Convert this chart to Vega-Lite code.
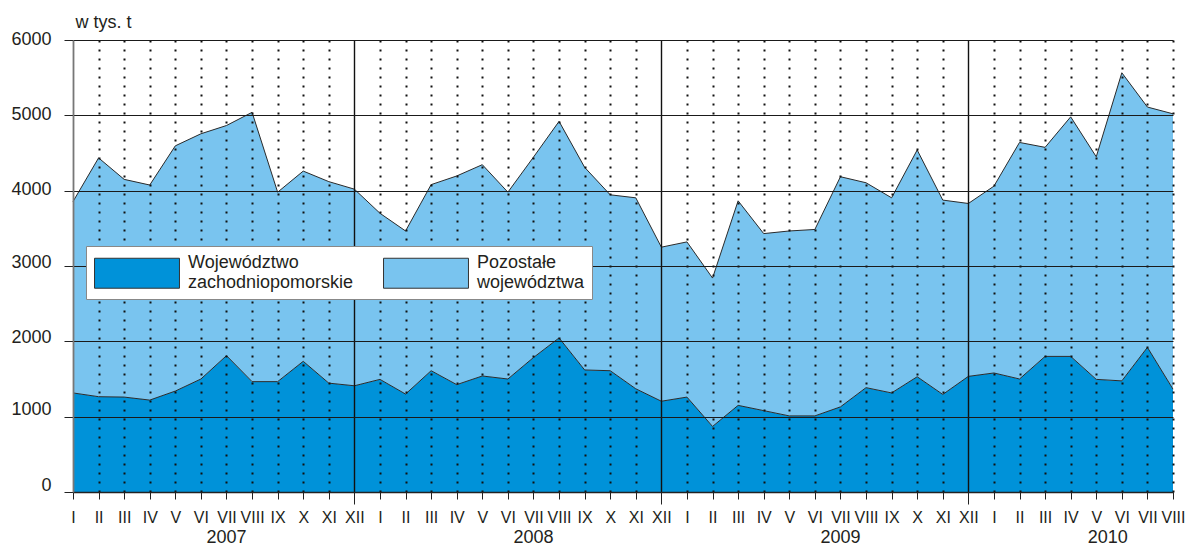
{
  "$schema": "https://vega.github.io/schema/vega-lite/v6.json",
  "width": 1100,
  "height": 452,
  "autosize": {"type": "none"},
  "padding": {"left": 73, "top": 40, "right": 24, "bottom": 55},
  "background": "white",
  "config": {"view": {"stroke": null}, "font": "Liberation Sans"},
  "datasets": {
    "main": [
      {"i":0,"s":"Województwo zachodniopomorskie","v":1315},{"i":0,"s":"Pozostałe województwa","v":2540},
      {"i":1,"s":"Województwo zachodniopomorskie","v":1265},{"i":1,"s":"Pozostałe województwa","v":3170},
      {"i":2,"s":"Województwo zachodniopomorskie","v":1260},{"i":2,"s":"Pozostałe województwa","v":2890},
      {"i":3,"s":"Województwo zachodniopomorskie","v":1220},{"i":3,"s":"Pozostałe województwa","v":2855},
      {"i":4,"s":"Województwo zachodniopomorskie","v":1340},{"i":4,"s":"Pozostałe województwa","v":3255},
      {"i":5,"s":"Województwo zachodniopomorskie","v":1500},{"i":5,"s":"Pozostałe województwa","v":3255},
      {"i":6,"s":"Województwo zachodniopomorskie","v":1810},{"i":6,"s":"Pozostałe województwa","v":3055},
      {"i":7,"s":"Województwo zachodniopomorskie","v":1465},{"i":7,"s":"Pozostałe województwa","v":3575},
      {"i":8,"s":"Województwo zachodniopomorskie","v":1465},{"i":8,"s":"Pozostałe województwa","v":2515},
      {"i":9,"s":"Województwo zachodniopomorskie","v":1735},{"i":9,"s":"Pozostałe województwa","v":2525},
      {"i":10,"s":"Województwo zachodniopomorskie","v":1445},{"i":10,"s":"Pozostałe województwa","v":2675},
      {"i":11,"s":"Województwo zachodniopomorskie","v":1410},{"i":11,"s":"Pozostałe województwa","v":2610},
      {"i":12,"s":"Województwo zachodniopomorskie","v":1495},{"i":12,"s":"Pozostałe województwa","v":2205},
      {"i":13,"s":"Województwo zachodniopomorskie","v":1300},{"i":13,"s":"Pozostałe województwa","v":2165},
      {"i":14,"s":"Województwo zachodniopomorskie","v":1610},{"i":14,"s":"Pozostałe województwa","v":2470},
      {"i":15,"s":"Województwo zachodniopomorskie","v":1425},{"i":15,"s":"Pozostałe województwa","v":2770},
      {"i":16,"s":"Województwo zachodniopomorskie","v":1540},{"i":16,"s":"Pozostałe województwa","v":2805},
      {"i":17,"s":"Województwo zachodniopomorskie","v":1500},{"i":17,"s":"Pozostałe województwa","v":2480},
      {"i":18,"s":"Województwo zachodniopomorskie","v":1785},{"i":18,"s":"Pozostałe województwa","v":2660},
      {"i":19,"s":"Województwo zachodniopomorskie","v":2045},{"i":19,"s":"Pozostałe województwa","v":2875},
      {"i":20,"s":"Województwo zachodniopomorskie","v":1620},{"i":20,"s":"Pozostałe województwa","v":2690},
      {"i":21,"s":"Województwo zachodniopomorskie","v":1610},{"i":21,"s":"Pozostałe województwa","v":2335},
      {"i":22,"s":"Województwo zachodniopomorskie","v":1370},{"i":22,"s":"Pozostałe województwa","v":2535},
      {"i":23,"s":"Województwo zachodniopomorskie","v":1205},{"i":23,"s":"Pozostałe województwa","v":2045},
      {"i":24,"s":"Województwo zachodniopomorskie","v":1260},{"i":24,"s":"Pozostałe województwa","v":2060},
      {"i":25,"s":"Województwo zachodniopomorskie","v":870},{"i":25,"s":"Pozostałe województwa","v":1970},
      {"i":26,"s":"Województwo zachodniopomorskie","v":1150},{"i":26,"s":"Pozostałe województwa","v":2715},
      {"i":27,"s":"Województwo zachodniopomorskie","v":1080},{"i":27,"s":"Pozostałe województwa","v":2350},
      {"i":28,"s":"Województwo zachodniopomorskie","v":1010},{"i":28,"s":"Pozostałe województwa","v":2455},
      {"i":29,"s":"Województwo zachodniopomorskie","v":1010},{"i":29,"s":"Pozostałe województwa","v":2475},
      {"i":30,"s":"Województwo zachodniopomorskie","v":1130},{"i":30,"s":"Pozostałe województwa","v":3055},
      {"i":31,"s":"Województwo zachodniopomorskie","v":1385},{"i":31,"s":"Pozostałe województwa","v":2720},
      {"i":32,"s":"Województwo zachodniopomorskie","v":1315},{"i":32,"s":"Pozostałe województwa","v":2590},
      {"i":33,"s":"Województwo zachodniopomorskie","v":1530},{"i":33,"s":"Pozostałe województwa","v":3010},
      {"i":34,"s":"Województwo zachodniopomorskie","v":1295},{"i":34,"s":"Pozostałe województwa","v":2580},
      {"i":35,"s":"Województwo zachodniopomorskie","v":1535},{"i":35,"s":"Pozostałe województwa","v":2295},
      {"i":36,"s":"Województwo zachodniopomorskie","v":1580},{"i":36,"s":"Pozostałe województwa","v":2480},
      {"i":37,"s":"Województwo zachodniopomorskie","v":1500},{"i":37,"s":"Pozostałe województwa","v":3140},
      {"i":38,"s":"Województwo zachodniopomorskie","v":1800},{"i":38,"s":"Pozostałe województwa","v":2775},
      {"i":39,"s":"Województwo zachodniopomorskie","v":1800},{"i":39,"s":"Pozostałe województwa","v":3180},
      {"i":40,"s":"Województwo zachodniopomorskie","v":1495},{"i":40,"s":"Pozostałe województwa","v":2955},
      {"i":41,"s":"Województwo zachodniopomorskie","v":1475},{"i":41,"s":"Pozostałe województwa","v":4090},
      {"i":42,"s":"Województwo zachodniopomorskie","v":1920},{"i":42,"s":"Pozostałe województwa","v":3190},
      {"i":43,"s":"Województwo zachodniopomorskie","v":1365},{"i":43,"s":"Pozostałe województwa","v":3655}
    ],
    "years": [
      {"i":6,"year":"2007"},
      {"i":18,"year":"2008"},
      {"i":30,"year":"2009"},
      {"i":40.45,"year":"2010"}
    ]
  },
  "encoding": {
    "x": {
      "field": "i", "type": "quantitative",
      "scale": {"domain": [0, 43], "nice": false, "zero": false},
      "axis": {
        "title": null,
        "values": [0,1,2,3,4,5,6,7,8,9,10,11,12,13,14,15,16,17,18,19,20,21,22,23,24,25,26,27,28,29,30,31,32,33,34,35,36,37,38,39,40,41,42,43],
        "labelExpr": "['I','II','III','IV','V','VI','VII','VIII','IX','X','XI','XII'][datum.value % 12]",
        "grid": true,
        "gridColor": {"condition": {"test": "datum.value == 0", "value": "#777777"}, "value": "#111111"},
        "gridDash": {"condition": {"test": "datum.value % 12 == 11 || datum.value == 0", "value": []}, "value": [2, 7]},
        "gridWidth": {"condition": {"test": "datum.value % 12 == 11 || datum.value == 0", "value": 1.4}, "value": 2},
        "tickSize": {"condition": {"test": "datum.value % 12 == 11", "value": 12}, "value": 7},
        "labelPadding": {"condition": {"test": "datum.value % 12 == 11", "value": 5}, "value": 10},
        "tickColor": "#222222",
        "tickWidth": 1,
        "domainColor": "#222222",
        "domainWidth": 1.3,
        "labelFont": "Liberation Sans",
        "labelFontSize": 16,
        "labelColor": "#231f20",
        "labelAngle": 0,
        "labelOverlap": false,
        "labelFlush": false,
        "labelBound": false,
        "zindex": 1
      }
    }
  },
  "layer": [
    {
      "data": {"name": "main"},
      "transform": [
        {"stack": "v", "groupby": ["i"], "sort": [{"field": "s", "order": "descending"}], "as": ["v0", "v1"]}
      ],
      "layer": [
        {
          "mark": {"type": "area", "opacity": 1},
          "encoding": {
            "y": {
              "field": "v1", "type": "quantitative",
              "scale": {"domain": [0, 6000], "nice": false},
              "axis": {
                "values": [0, 1000, 2000, 3000, 4000, 5000, 6000],
                "format": "d",
                "title": "w tys. t",
                "titleAngle": 0,
                "titleX": 2,
                "titleY": -18,
                "titleAlign": "left",
                "titleBaseline": "middle",
                "titleFont": "Liberation Sans",
                "titleFontSize": 18,
                "titleFontWeight": "normal",
                "titleColor": "#231f20",
                "grid": true,
                "gridColor": "#1a1a1a",
                "gridWidth": 1.2,
                "tickSize": 9,
                "tickColor": "#222222",
                "domain": true,
                "domainColor": "#777777",
                "domainWidth": 1.5,
                "labelFont": "Liberation Sans",
                "labelFontSize": 18,
                "labelColor": "#231f20",
                "labelPadding": 13,
                "labelBaseline": "middle",
                "labelOffset": {"condition": [{"test": "datum.value <= 1000", "value": -7}, {"test": "datum.value <= 3000", "value": -4}], "value": -1},
                "zindex": 1
              }
            },
            "y2": {"field": "v0"},
            "color": {
              "field": "s", "type": "nominal",
              "scale": {"domain": ["Województwo zachodniopomorskie", "Pozostałe województwa"], "range": ["#0092d9", "#79c4ef"]},
              "legend": {
                "orient": "none",
                "legendX": 13,
                "legendY": 206,
                "direction": "horizontal",
                "columns": 2,
                "title": null,
                "fillColor": "white",
                "strokeColor": "#888888",
                "padding": 7,
                "symbolType": "M-4.72,-0.5H4.72V2.83H-4.72Z",
                "symbolSize": 324,
                "symbolOffset": 34.5,
                "symbolStrokeColor": "#333333",
                "symbolStrokeWidth": 1,
                "symbolOpacity": 1,
                "labelExpr": "split(datum.label, ' ')",
                "labelFont": "Liberation Sans",
                "labelFontSize": 18,
                "labelColor": "#231f20",
                "labelOffset": 41.5,
                "labelLimit": 400,
                "columnPadding": 27,
                "zindex": 2
              }
            }
          }
        },
        {
          "mark": {"type": "line", "color": "#2a2a2a", "strokeWidth": 1},
          "encoding": {
            "y": {"field": "v1", "type": "quantitative"},
            "detail": {"field": "s", "type": "nominal"}
          }
        }
      ]
    },
    {
      "data": {"name": "years"},
      "mark": {"type": "text", "dy": 46, "fontSize": 18, "font": "Liberation Sans", "color": "#231f20", "baseline": "middle", "align": "center", "clip": false},
      "encoding": {
        "y": {
          "datum": 0, "type": "quantitative",
          "axis": {
            "values": [0, 1000, 2000, 3000, 4000, 5000, 6000],
            "format": "d",
            "title": "w tys. t",
            "titleAngle": 0,
            "titleX": 2,
            "titleY": -18,
            "titleAlign": "left",
            "titleBaseline": "middle",
            "titleFont": "Liberation Sans",
            "titleFontSize": 18,
            "titleFontWeight": "normal",
            "titleColor": "#231f20",
            "grid": true,
            "gridColor": "#1a1a1a",
            "gridWidth": 1.2,
            "tickSize": 9,
            "tickColor": "#222222",
            "domain": true,
            "domainColor": "#777777",
            "domainWidth": 1.5,
            "labelFont": "Liberation Sans",
            "labelFontSize": 18,
            "labelColor": "#231f20",
            "labelPadding": 13,
            "labelBaseline": "middle",
            "labelOffset": {"condition": [{"test": "datum.value <= 1000", "value": -7}, {"test": "datum.value <= 3000", "value": -4}], "value": -1},
            "zindex": 1
          }
        },
        "text": {"field": "year"}
      }
    }
  ]
}
